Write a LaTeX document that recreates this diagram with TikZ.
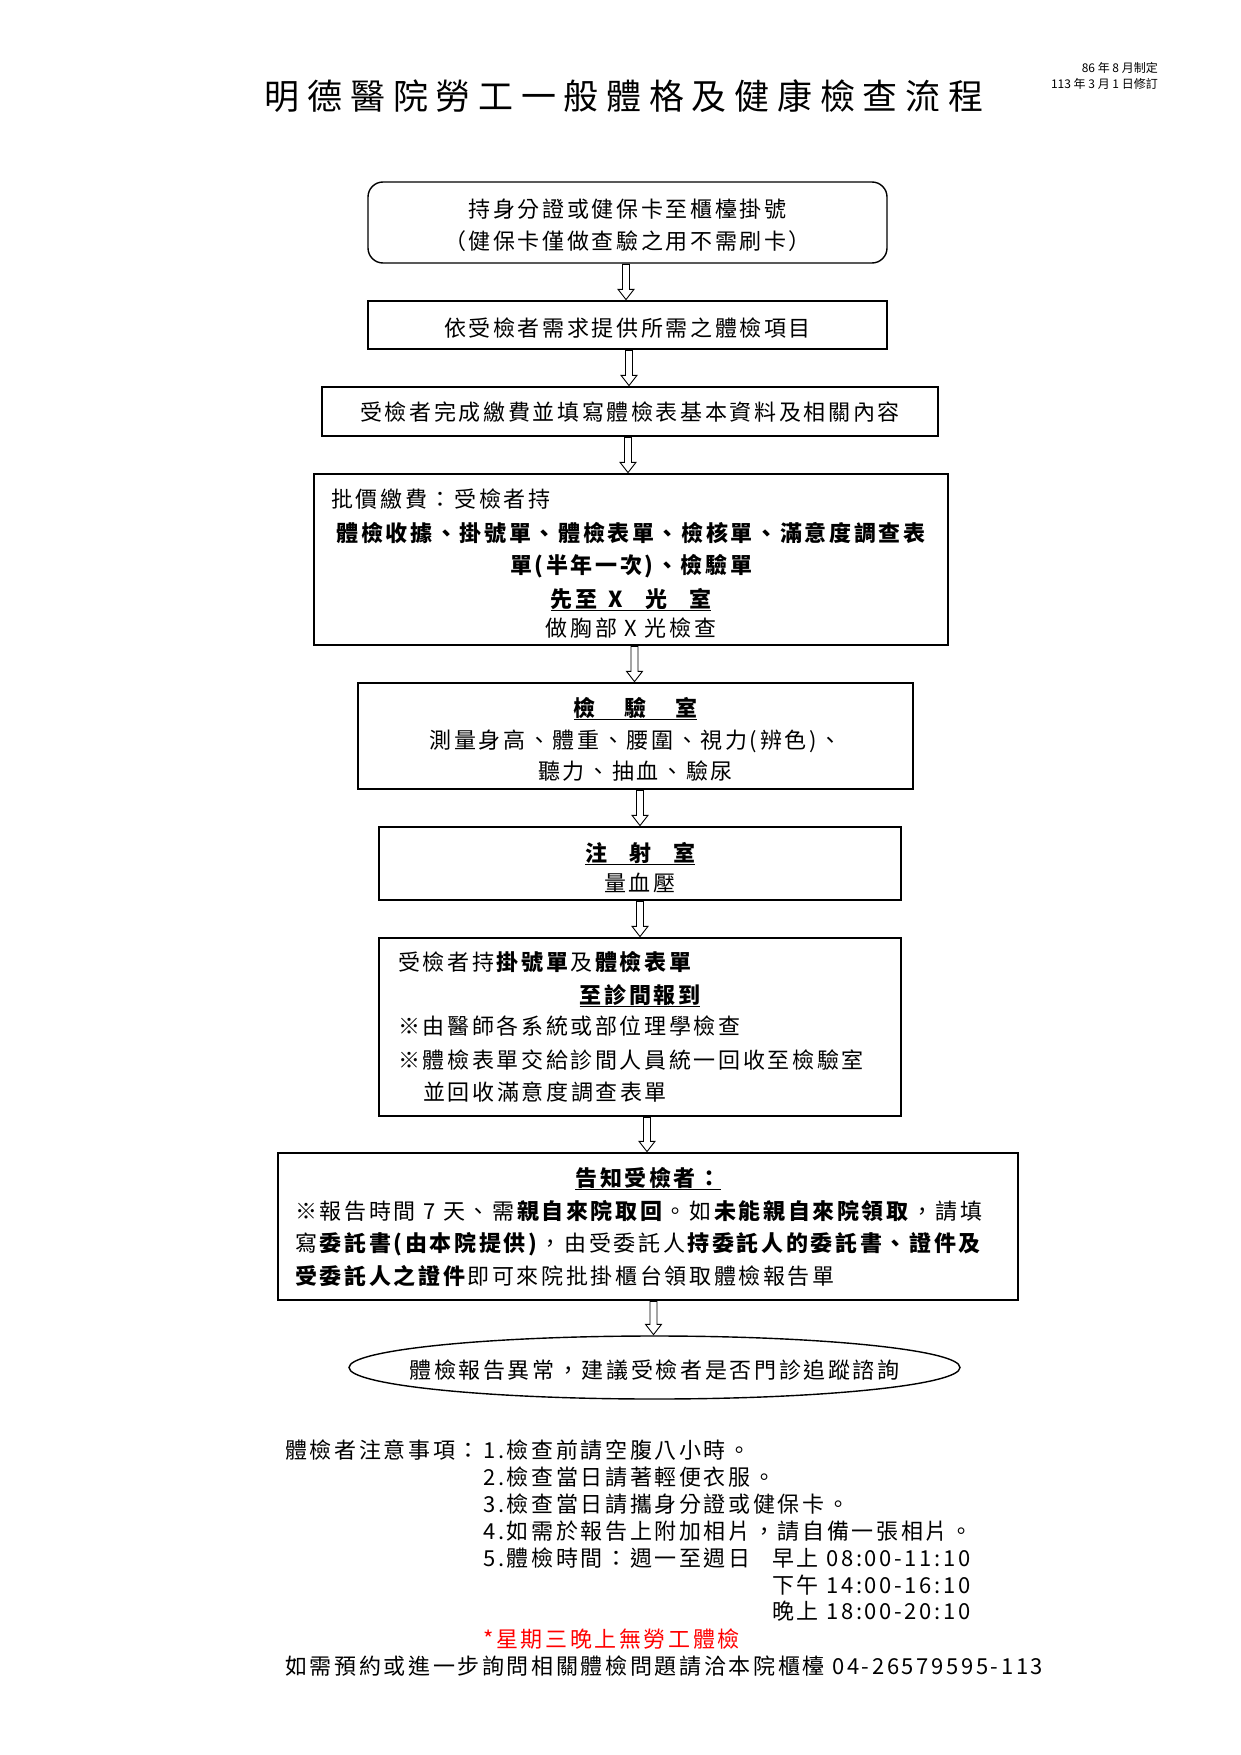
\documentclass[tikz,border=0pt]{standalone}
\usepackage{fontspec}
\setmainfont{Noto Sans CJK TC}[LetterSpace=12]
\newfontfamily\titlefont{Noto Sans CJK TC}[LetterSpace=22]
\newfontfamily\smallfont{Noto Sans CJK TC}
\usetikzlibrary{calc,shapes.geometric}
\newcommand\bodyfont{\fontsize{22}{32}\selectfont}
\tikzset{
  box/.style={draw, line width=1.4pt, rectangle, inner sep=0pt},
  tx/.style={inner sep=0pt, anchor=base, font=\bodyfont},
  txl/.style={tx, anchor=base west},
  blk/.style={draw, line width=0.9pt, fill=white},
}
\newcommand\blkarrow[3]{%
  \draw[blk] let \p1=(#2.south), \p2=(#3.north) in
   ({#1pt-3.5pt},{\y1-0.7pt}) -- ({#1pt-3.5pt},{\y2+11pt}) -- ({#1pt-8pt},{\y2+11pt})
   -- (#1pt,{\y2+0.7pt}) -- ({#1pt+8pt},{\y2+11pt}) -- ({#1pt+3.5pt},{\y2+11pt})
   -- ({#1pt+3.5pt},{\y1-0.7pt}) -- cycle;}
\begin{document}
\begin{tikzpicture}[x=1pt,y=-1pt]
\fill[white] (0,0) rectangle (1241,1755);
\useasboundingbox (0,0) rectangle (1241,1755);

% header
\node[anchor=base, inner sep=0, font=\titlefont\fontsize{35}{40}\selectfont] (title) at (624,110) {明德醫院勞工一般體格及健康檢查流程};
\node[anchor=base east, inner sep=0, font=\smallfont\fontsize{12}{14}\selectfont] (d1) at (1158,73) {86 年 8 月制定};
\node[anchor=base east, inner sep=0, font=\smallfont\fontsize{12}{14}\selectfont] (d2) at (1158,89) {113 年 3 月 1 日修訂};

% box 1
\node[box, rounded corners=15pt, minimum width=519, minimum height=81] (b1) at (627.5,222.5) {};
\node[tx] (b1a) at (627.5,217) {持身分證或健保卡至櫃檯掛號};
\node[tx] (b1b) at (627.5,249) {（健保卡僅做查驗之用不需刷卡）};
% box 2
\node[box, minimum width=519, minimum height=48] (b2) at (627.5,325) {};
\node[tx] (b2a) at (627.5,336) {依受檢者需求提供所需之體檢項目};
% box 3
\node[box, minimum width=616, minimum height=49] (b3) at (630,411.5) {};
\node[tx] (b3a) at (630,420) {受檢者完成繳費並填寫體檢表基本資料及相關內容};
% box 4
\node[box, minimum width=634, minimum height=171] (b4) at (631,559.5) {};
\node[txl] (b4a) at (331,507) {批價繳費：受檢者持};
\node[tx] (b4b) at (631,541) {\bfseries 體檢收據、掛號單、體檢表單、檢核單、滿意度調查表};
\node[tx] (b4c) at (631,573) {\bfseries 單(半年一次)、檢驗單};
\node[tx] (b4d) at (631,607) {\bfseries\underline{先至\hspace{0.5em}X\hspace{1em}光\hspace{1em}室}};
\node[tx] (b4e) at (631,636) {做胸部 X 光檢查};
% box 5
\node[box, minimum width=555, minimum height=106] (b5) at (635.5,736) {};
\node[tx] (b5a) at (635.5,716) {\bfseries\underline{檢\hspace{1.3em}驗\hspace{1.3em}室}};
\node[tx] (b5b) at (635.5,748) {測量身高、體重、腰圍、視力(辨色)、};
\node[tx] (b5c) at (635.5,779) {聽力、抽血、驗尿};
% box 6
\node[box, minimum width=522, minimum height=73] (b6) at (640,863.5) {};
\node[tx] (b6a) at (640,861) {\bfseries\underline{注\hspace{1em}射\hspace{1em}室}};
\node[tx] (b6b) at (640,891) {量血壓};
% box 7
\node[box, minimum width=522, minimum height=178] (b7) at (640,1027) {};
\node[txl] (b7a) at (398,970) {受檢者持\textbf{掛號單}及\textbf{體檢表單}};
\node[tx] (b7b) at (640,1003) {\bfseries\underline{至診間報到}};
\node[txl] (b7c) at (398,1034) {※由醫師各系統或部位理學檢查};
\node[txl] (b7d) at (398,1068) {※體檢表單交給診間人員統一回收至檢驗室};
\node[txl] (b7e) at (423,1100) {並回收滿意度調查表單};
% box 8
\node[box, minimum width=740, minimum height=147] (b8) at (648,1226.5) {};
\node[tx] (b8a) at (648,1186) {\bfseries\underline{告知受檢者：}};
\node[txl] (b8b) at (295,1219) {※報告時間 7 天、需\textbf{親自來院取回}。如\textbf{未能親自來院領取}，請填};
\node[txl] (b8c) at (295,1251) {寫\textbf{委託書(由本院提供)}，由受委託人\textbf{持委託人的委託書、證件及}};
\node[txl] (b8d) at (295,1284) {\textbf{受委託人之證件}即可來院批掛櫃台領取體檢報告單};
% ellipse
\node[draw, ellipse, line width=1.4pt, minimum width=611, minimum height=63, inner sep=0] (e) at (654.5,1367.5) {};
\node[tx] (et) at (654.5,1378) {體檢報告異常，建議受檢者是否門診追蹤諮詢};

% arrows
\blkarrow{626}{b1}{b2}
\blkarrow{629}{b2}{b3}
\blkarrow{628}{b3}{b4}
\blkarrow{634.5}{b4}{b5}
\blkarrow{640}{b5}{b6}
\blkarrow{640}{b6}{b7}
\blkarrow{647}{b7}{b8}
\blkarrow{653.5}{b8}{e}

% notes
\node[txl] (n0) at (285,1458) {體檢者注意事項：};
\node[txl] (n1) at (483,1458) {1.檢查前請空腹八小時。};
\node[txl] (n2) at (483,1485) {2.檢查當日請著輕便衣服。};
\node[txl] (n3) at (483,1512) {3.檢查當日請攜身分證或健保卡。};
\node[txl] (n4) at (483,1539) {4.如需於報告上附加相片，請自備一張相片。};
\node[txl] (n5) at (483,1566) {5.體檢時間：週一至週日};
\node[txl] (n6) at (772,1566) {早上 08:00-11:10};
\node[txl] (n7) at (772,1593) {下午 14:00-16:10};
\node[txl] (n8) at (772,1619) {晚上 18:00-20:10};
\node[txl, text=red] (n9) at (483,1647) {*星期三晚上無勞工體檢};
\node[txl] (n10) at (285,1674) {如需預約或進一步詢問相關體檢問題請洽本院櫃檯 04-26579595-113};
\end{tikzpicture}
\end{document}
